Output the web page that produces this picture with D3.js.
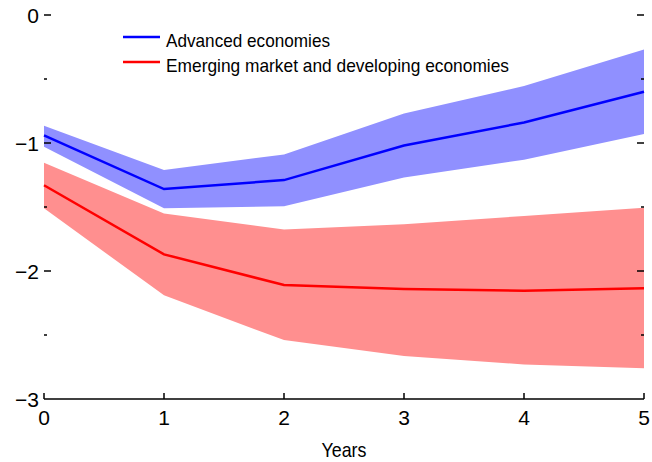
<!DOCTYPE html>
<html>
<head>
<meta charset="utf-8">
<script src="https://cdn.jsdelivr.net/npm/d3@7"></script>
<style>
  html, body { margin: 0; padding: 0; background: #fff; }
  text { font-family: "Liberation Sans", Arial, sans-serif; fill: #000; }
</style>
</head>
<body>
<svg id="chart" width="652" height="462"></svg>
<script>
// Horizon (years) and responses
const years = [0, 1, 2, 3, 4, 5];

const advMean  = [-0.94, -1.36, -1.29, -1.02, -0.84, -0.60];
const advUpper = [-0.865, -1.21, -1.09, -0.77, -0.555, -0.27];
const advLower = [-1.03, -1.51, -1.495, -1.27, -1.13, -0.93];

const emMean  = [-1.33, -1.87, -2.11, -2.14, -2.155, -2.135];
const emUpper = [-1.155, -1.55, -1.675, -1.635, -1.57, -1.505];
const emLower = [-1.51, -2.19, -2.54, -2.665, -2.73, -2.76];

const yMajor = [0, -1, -2, -3];
const yMinor = [-0.5, -1.5, -2.5];
const seriesNames = ["Advanced economies", "Emerging market and developing economies"];

const svg = d3.select("#chart");
const plotLeft = 44, plotRight = 644, plotTop = 15, plotBottom = 399;

const x = d3.scaleLinear().domain([0, 5]).range([plotLeft, plotRight]);
const y = d3.scaleLinear().domain([-3, 0]).range([plotBottom, plotTop]);

const band = (lo, hi) => d3.area()
  .x((d, i) => x(years[i]))
  .y0((d, i) => y(lo[i]))
  .y1((d, i) => y(hi[i]));
const line = vals => d3.line().x((d, i) => x(years[i])).y((d, i) => y(vals[i]));

// Confidence bands
svg.append("path").attr("d", band(advLower, advUpper)(years))
  .attr("fill", "#9090ff");
svg.append("path").attr("d", band(emLower, emUpper)(years))
  .attr("fill", "#ff8f8f");

// Point estimates
svg.append("path").attr("d", line(advMean)(years))
  .attr("fill", "none").attr("stroke", "#0000ff").attr("stroke-width", 2.5);
svg.append("path").attr("d", line(emMean)(years))
  .attr("fill", "none").attr("stroke", "#ff0000").attr("stroke-width", 2.5);

// Bottom axis line and ticks
const ax = svg.append("g").attr("stroke", "#000").attr("stroke-width", 1.5);
ax.append("line").attr("x1", plotLeft).attr("x2", plotRight).attr("y1", plotBottom).attr("y2", plotBottom);
years.forEach(v => {
  ax.append("line").attr("x1", x(v)).attr("x2", x(v)).attr("y1", plotBottom).attr("y2", plotBottom - 6);
});

// Y ticks on both sides, pointing inward
yMajor.forEach(v => {
  if (v === -3) return;
  ax.append("line").attr("x1", plotLeft).attr("x2", plotLeft + 7).attr("y1", y(v)).attr("y2", y(v));
  ax.append("line").attr("x1", plotRight - 7).attr("x2", plotRight).attr("y1", y(v)).attr("y2", y(v));
});
yMinor.forEach(v => {
  ax.append("line").attr("x1", plotLeft).attr("x2", plotLeft + 3).attr("y1", y(v)).attr("y2", y(v));
  ax.append("line").attr("x1", plotRight - 3).attr("x2", plotRight).attr("y1", y(v)).attr("y2", y(v));
});

// Tick labels
const fmt = v => (v < 0 ? "\u2212" + Math.abs(v) : String(v));
svg.selectAll(".ylab").data(yMajor).enter().append("text")
  .attr("x", plotLeft - 5).attr("y", d => y(d))
  .attr("dy", "0.36em").attr("text-anchor", "end")
  .style("font-size", "21px").text(fmt);
svg.selectAll(".xlab").data(years).enter().append("text")
  .attr("x", d => x(d)).attr("y", 425)
  .attr("text-anchor", "middle")
  .style("font-size", "21px").text(d => d);

svg.append("text").attr("x", (plotLeft + plotRight) / 2).attr("y", 457)
  .attr("text-anchor", "middle").style("font-size", "21px")
  .attr("textLength", 45).attr("lengthAdjust", "spacingAndGlyphs")
  .text("Years");

// Legend
const legColors = ["#0000ff", "#ff0000"];
const legWidths = [164, 343];
seriesNames.forEach((name, i) => {
  const ly = 37 + i * 25;
  svg.append("line").attr("x1", 123).attr("x2", 160).attr("y1", ly).attr("y2", ly)
    .attr("stroke", legColors[i]).attr("stroke-width", 2.5);
  svg.append("text").attr("x", 166).attr("y", ly + 10)
    .style("font-size", "18.5px")
    .attr("textLength", legWidths[i]).attr("lengthAdjust", "spacingAndGlyphs")
    .text(name);
});
</script>
</body>
</html>
